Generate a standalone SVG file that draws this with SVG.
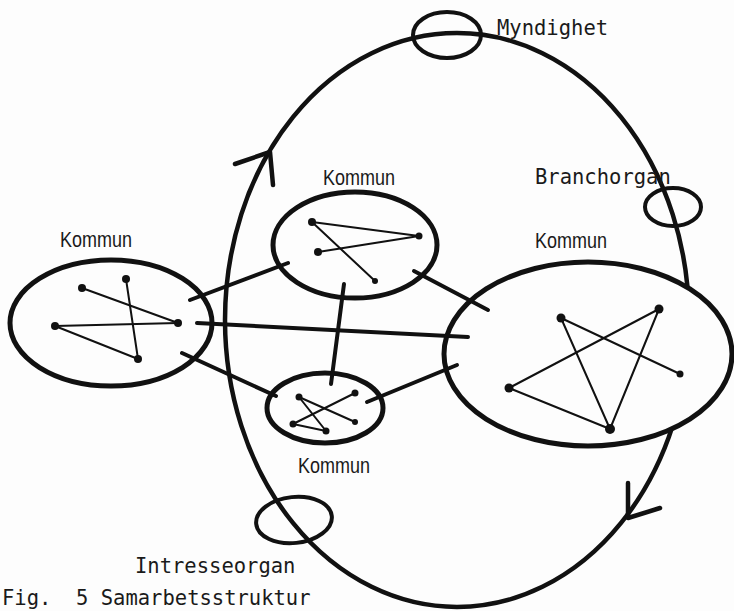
<svg xmlns="http://www.w3.org/2000/svg" width="734" height="611" viewBox="0 0 734 611">
<style>
.bg{fill:#fdfdfd}
.ring{fill:none;stroke:#111;stroke-width:4.5}
.kring{fill:#fdfdfd;stroke:#111;stroke-width:5}
.org{fill:none;stroke:#111;stroke-width:4}
.link{stroke:#111;stroke-width:4;stroke-linecap:round;fill:none}
.in{stroke:#111;stroke-width:2;stroke-linecap:round;fill:none}
.dot{fill:#111}
.mono{font-family:"DejaVu Sans Mono","Liberation Mono",monospace;font-size:20.5px;fill:#1a1a1a}
.sans{font-family:"Liberation Sans","Arial",sans-serif;font-size:22px;fill:#1a1a1a}
.arrow{fill:none;stroke:#111;stroke-width:4.5;stroke-linecap:round;stroke-linejoin:round}
</style>
<rect class="bg" x="0" y="0" width="734" height="611"/>

<g id="loop">
<ellipse class="ring" cx="457" cy="320" rx="232" ry="287"/>
<polyline class="arrow" points="235,164 270,152 273,185"/>
<polyline class="arrow" points="628,483 628,518 660,508"/>
</g>

<g id="myndighet">
<ellipse class="org" cx="447" cy="35" rx="34" ry="23"/>
<text class="mono" x="497" y="35">Myndighet</text>
</g>
<g id="branchorgan">
<ellipse class="org" cx="673" cy="207" rx="28" ry="19"/>
<text class="mono" x="535" y="184">Branchorgan</text>
</g>
<g id="intresseorgan">
<ellipse class="org" cx="294" cy="520" rx="38" ry="23" transform="rotate(-6 294 520)"/>
<text class="mono" x="135" y="573">Intresseorgan</text>
</g>

<g id="kommun-left">
<ellipse class="kring" cx="111" cy="323" rx="101" ry="63"/>
<line class="in" x1="82" y1="288" x2="178" y2="323"/>
<line class="in" x1="126" y1="279" x2="138" y2="359"/>
<line class="in" x1="55" y1="326" x2="178" y2="323"/>
<line class="in" x1="55" y1="326" x2="138" y2="359"/>
<circle class="dot" cx="82" cy="288" r="4"/>
<circle class="dot" cx="126" cy="279" r="4"/>
<circle class="dot" cx="178" cy="323" r="4"/>
<circle class="dot" cx="55" cy="326" r="4"/>
<circle class="dot" cx="138" cy="359" r="4"/>
<text class="sans" x="60" y="247" textLength="72" lengthAdjust="spacingAndGlyphs">Kommun</text>
</g>

<g id="kommun-top">
<ellipse class="kring" cx="355" cy="245" rx="82" ry="53"/>
<line class="in" x1="312" y1="222" x2="419" y2="236"/>
<line class="in" x1="419" y1="236" x2="318" y2="252"/>
<line class="in" x1="312" y1="222" x2="375" y2="281"/>
<circle class="dot" cx="312" cy="222" r="4"/>
<circle class="dot" cx="419" cy="236" r="3.5"/>
<circle class="dot" cx="318" cy="252" r="4"/>
<circle class="dot" cx="375" cy="281" r="3"/>
<text class="sans" x="323" y="185" textLength="72" lengthAdjust="spacingAndGlyphs">Kommun</text>
</g>

<g id="kommun-bottom">
<ellipse class="kring" cx="325" cy="408" rx="58" ry="35"/>
<line class="in" x1="299" y1="397" x2="355" y2="422"/>
<line class="in" x1="299" y1="397" x2="326" y2="431"/>
<line class="in" x1="355" y1="393" x2="293" y2="424"/>
<line class="in" x1="293" y1="424" x2="326" y2="431"/>
<circle class="dot" cx="299" cy="397" r="3.5"/>
<circle class="dot" cx="355" cy="393" r="3.5"/>
<circle class="dot" cx="355" cy="422" r="3"/>
<circle class="dot" cx="293" cy="424" r="3.5"/>
<circle class="dot" cx="326" cy="431" r="3.5"/>
<text class="sans" x="298" y="473" textLength="72" lengthAdjust="spacingAndGlyphs">Kommun</text>
</g>

<g id="kommun-right">
<ellipse class="kring" cx="588" cy="354" rx="144" ry="92"/>
<line class="in" x1="561" y1="318" x2="680" y2="374"/>
<line class="in" x1="561" y1="318" x2="610" y2="429"/>
<line class="in" x1="659" y1="309" x2="509" y2="388"/>
<line class="in" x1="659" y1="309" x2="610" y2="429"/>
<line class="in" x1="509" y1="388" x2="610" y2="429"/>
<circle class="dot" cx="561" cy="318" r="4.5"/>
<circle class="dot" cx="659" cy="309" r="4.5"/>
<circle class="dot" cx="680" cy="374" r="3.5"/>
<circle class="dot" cx="509" cy="388" r="4.5"/>
<circle class="dot" cx="610" cy="429" r="5"/>
<text class="sans" x="535" y="248" textLength="72" lengthAdjust="spacingAndGlyphs">Kommun</text>
</g>

<g id="connectors">
<line class="link" x1="190" y1="300" x2="288" y2="263"/>
<line class="link" x1="197" y1="323" x2="468" y2="337"/>
<line class="link" x1="182" y1="353" x2="276" y2="396"/>
<line class="link" x1="344" y1="284" x2="331" y2="384"/>
<line class="link" x1="414" y1="271" x2="488" y2="310"/>
<line class="link" x1="367" y1="402" x2="457" y2="365"/>
</g>

<text class="mono" x="2" y="605" xml:space="preserve">Fig.  5 Samarbetsstruktur</text>
</svg>
